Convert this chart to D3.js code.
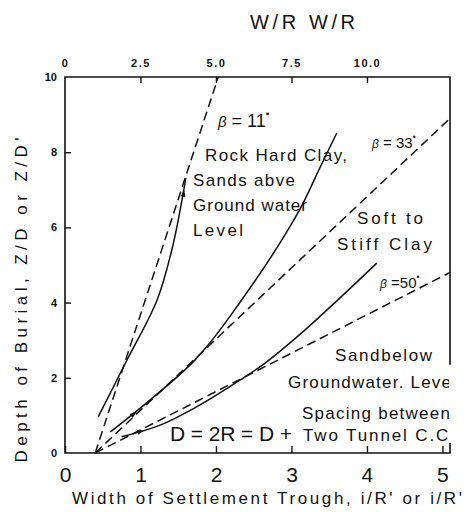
<!DOCTYPE html>
<html>
<head>
<meta charset="utf-8">
<script src="https://cdn.jsdelivr.net/npm/d3@7"></script>
</head>
<body style="margin:0">
<svg id="chart" width="467" height="512"></svg>
<script>
// axis ticks
const xTicks = [0, 1, 2, 3, 4, 5];
const yTicks = [0, 2, 4, 6, 8, 10];
const topTicks = [0, 2.5, 5.0, 7.5, 10.0];
const topLabels = ['0', '2.5', '5.0', '7.5', '10.0'];

// dashed beta lines (i/R, Z/D)
const betaNames = ['11', '33', '50'];
const beta11 = [[0.4, 0], [2.03, 10]];
const beta33 = [[0.4, 0], [5.1, 8.9]];
const beta50 = [[0.4, 0], [5.1, 4.8]];

// solid observed curves
const rockCurve = [[0.44, 0.96], [0.82, 2.47], [1.22, 4.07], [1.43, 5.53], [1.60, 7.31]];
const clayCurve = [[0.60, 0.56], [1.72, 2.47], [2.34, 4.07], [3.07, 6.33], [3.38, 7.6], [3.60, 8.51]];
const sandCurve = [[0.75, 0.43], [1.26, 0.74], [1.79, 1.28], [2.32, 1.94], [2.65, 2.39], [3.15, 3.22], [3.64, 4.12], [4.13, 5.05]];

const svg = d3.select('#chart');
const font = '"Liberation Sans", Arial, sans-serif';

const x = d3.scaleLinear().domain([0, 5.1]).range([65, 450]);
const xTop = d3.scaleLinear().domain([0, 5.1 * 2.5]).range([65, 450]);
const y = d3.scaleLinear().domain([0, 10]).range([453, 77]);

const line = d3.line().x(d => x(d[0])).y(d => y(d[1]));
const curve = d3.line().x(d => x(d[0])).y(d => y(d[1])).curve(d3.curveCatmullRom.alpha(0.5));

// axes
const axBottom = svg.append('g').attr('transform', `translate(0,${y(0)})`)
  .call(d3.axisBottom(x).tickValues(xTicks).tickFormat(d3.format('d')).tickSize(-7).tickPadding(14));
const axTop = svg.append('g').attr('transform', `translate(0,${y(10)})`)
  .call(d3.axisTop(xTop).tickValues(topTicks).tickFormat((d, i) => topLabels[i]).tickSize(-6).tickPadding(10));
const axLeft = svg.append('g').attr('transform', `translate(${x(0)},0)`)
  .call(d3.axisLeft(y).tickValues(yTicks).tickSize(-6).tickPadding(8));

[axBottom, axTop, axLeft].forEach(g => {
  g.attr('font-family', font);
  g.select('.domain').remove();
  g.selectAll('.tick line').attr('stroke', '#111').attr('stroke-width', 1.4);
  g.selectAll('text').attr('fill', '#111');
});
axBottom.attr('font-size', 21);
axTop.attr('font-size', 11).attr('font-weight', 'bold').selectAll('text').attr('letter-spacing', 1.5);
axTop.selectAll('.tick').filter(d => d === 0).select('line').remove();
axLeft.attr('font-size', 11).attr('font-weight', 'bold');
axLeft.selectAll('.tick').filter(d => d === 0 || d === 10).select('line').remove();

// frame (right side broken where the notes run into it)
svg.append('path')
  .attr('d', line([[5.1, 2.35], [5.1, 10], [0, 10], [0, 0], [5.1, 0], [5.1, 0.27]]))
  .attr('fill', 'none').attr('stroke', '#111').attr('stroke-width', 1.6);

// lines
const lines = svg.append('g').attr('fill', 'none').attr('stroke', '#111').attr('stroke-width', 1.5);
[beta11, beta33, beta50].forEach(b => {
  lines.append('path').attr('d', line(b)).attr('stroke-dasharray', '9,5');
});
[rockCurve, clayCurve, sandCurve].forEach(c => {
  lines.append('path').attr('d', curve(c));
});

// small arrowheads on the solid curves
function arrow(a, b) {
  const x1 = x(a[0]), y1 = y(a[1]), x2 = x(b[0]), y2 = y(b[1]);
  const ang = Math.atan2(y2 - y1, x2 - x1);
  const L = 7, W = 2.5;
  const p = [
    [x2, y2],
    [x2 - L * Math.cos(ang) + W * Math.sin(ang), y2 - L * Math.sin(ang) - W * Math.cos(ang)],
    [x2 - L * Math.cos(ang) - W * Math.sin(ang), y2 - L * Math.sin(ang) + W * Math.cos(ang)]
  ];
  svg.append('path').attr('d', 'M' + p.join('L') + 'Z').attr('fill', '#111');
}
arrow(rockCurve[3], [1.58, 7.0]);
arrow(clayCurve[0], [0.95, 1.1]);
arrow(sandCurve[0], [1.05, 0.6]);

// annotations, cut off at the right edge like the scan
svg.append('clipPath').attr('id', 'cut')
  .append('rect').attr('x', 0).attr('y', 0).attr('width', 449).attr('height', 512);
const notes = svg.append('g').attr('clip-path', 'url(#cut)')
  .attr('font-family', font).attr('fill', '#111');
function note(t, px, py, size, len) {
  const el = notes.append('text').attr('x', px).attr('y', py).attr('font-size', size).text(t);
  if (len) el.attr('textLength', len);
  return el;
}
function betaNote(name, px, py, size) {
  const el = notes.append('text').attr('x', px).attr('y', py).attr('font-size', size);
  el.append('tspan').attr('font-style', 'italic').attr('font-size', size - 3).text('β');
  el.append('tspan').text(name);
  el.append('tspan').attr('dy', -size * 0.55).attr('font-size', size * 0.55).text('•');
  return el;
}
betaNote(' = ' + betaNames[0], 218, 127, 18);
betaNote(' = ' + betaNames[1], 372, 148, 15);
betaNote(' =' + betaNames[2], 380, 288, 15);

note('Rock Hard Clay,', 205, 161, 17, 142);
note('Sands abve', 193, 186, 17, 102);
note('Ground water', 193, 211, 17, 114);
note('Level', 193, 236, 17, 50);
note('Soft to', 357, 224, 17, 66);
note('Stiff Clay', 337, 250, 17, 95);
note('Sandbelow', 335, 361, 17, 97);
note('Groundwater. Level', 288, 388, 17, 168);
note('Spacing between', 302, 419, 17, 148);
note('Two Tunnel C.C.', 303, 441, 17, 152);
note('D = 2R = D +', 170, 441, 21, 122)
  .attr('paint-order', 'stroke').attr('stroke', '#fff').attr('stroke-width', 4);

// titles
const titles = svg.append('g').attr('font-family', font).attr('fill', '#111');
titles.append('text').attr('x', 250).attr('y', 29).attr('font-size', 20)
  .attr('textLength', 105).text('W/R W/R');
titles.append('text').attr('x', 72).attr('y', 504).attr('font-size', 17)
  .attr('textLength', 390).text("Width of Settlement Trough, i/R' or  i/R'");
titles.append('text').attr('transform', 'translate(27,300) rotate(-90)')
  .attr('text-anchor', 'middle').attr('font-size', 17)
  .attr('textLength', 325).text("Depth of Burial, Z/D or Z/D'");
</script>
</body>
</html>
